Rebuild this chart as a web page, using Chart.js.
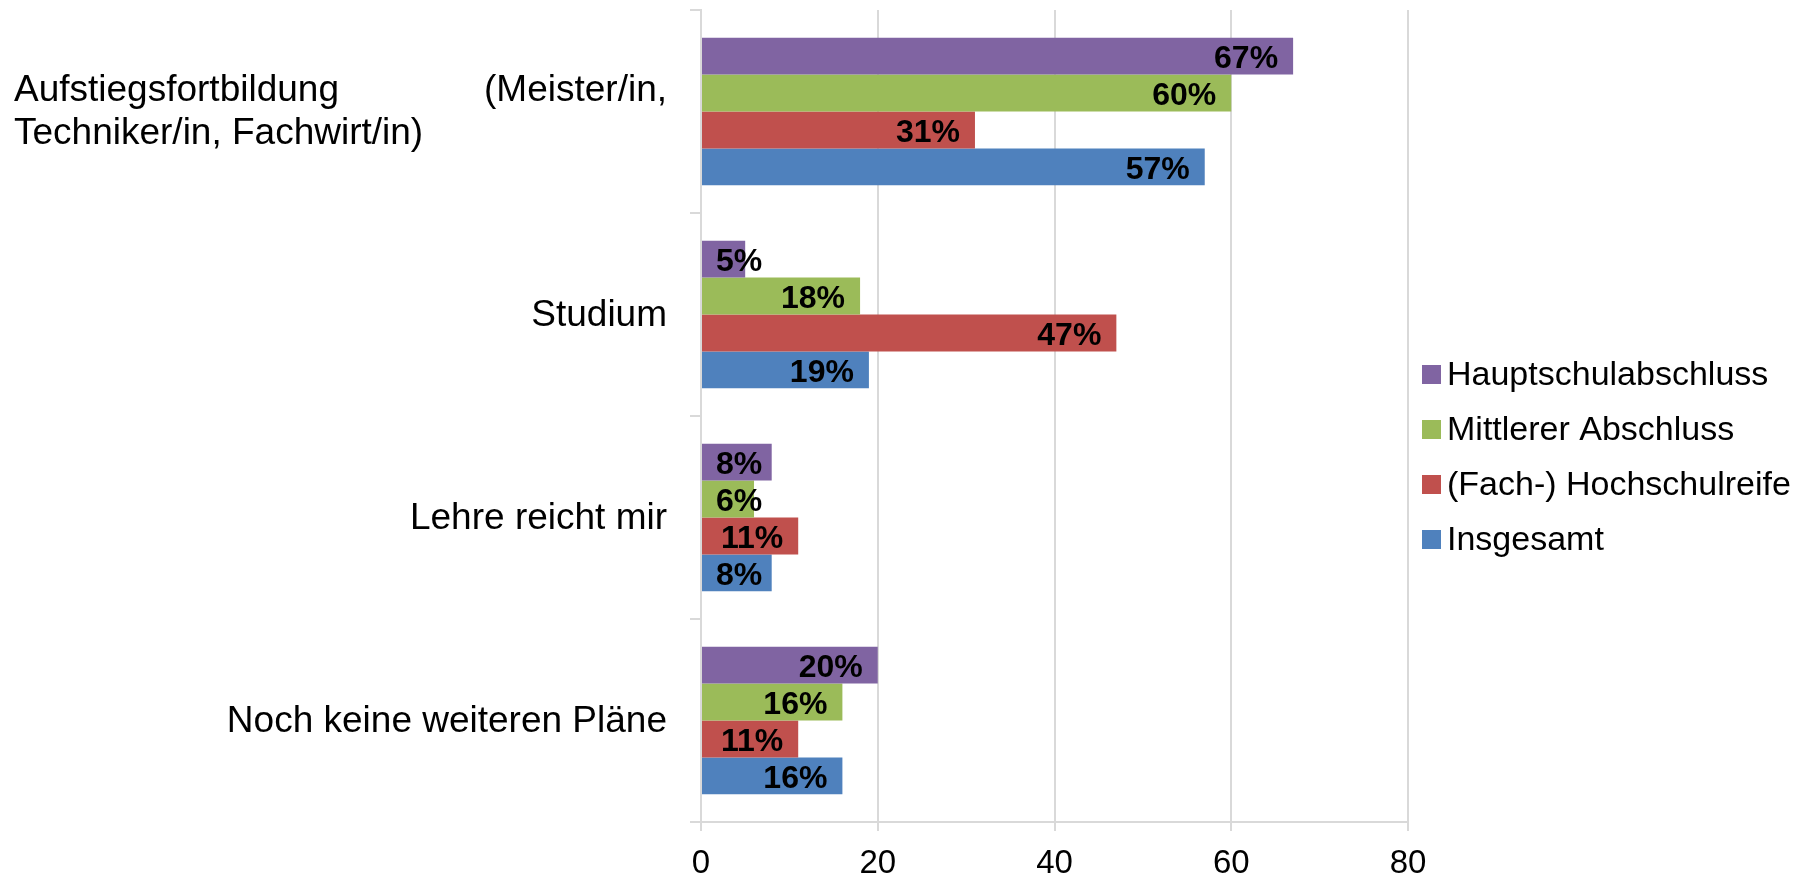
<!DOCTYPE html>
<html lang="de">
<head>
<meta charset="utf-8">
<title>Pläne nach der Ausbildung</title>
<script src="https://cdn.jsdelivr.net/npm/chart.js@4.4.1/dist/chart.umd.min.js"></script>
<style>
  html, body { margin: 0; padding: 0; background: #fff; }
  #wrap { position: relative; width: 1812px; height: 875px; }
</style>
</head>
<body>
<div id="wrap"><canvas id="chart"></canvas></div>
<script>
const categories = [
  'Aufstiegsfortbildung (Meister/in, Techniker/in, Fachwirt/in)',
  'Studium',
  'Lehre reicht mir',
  'Noch keine weiteren Pläne'
];
const seriesNames = ['Hauptschulabschluss', 'Mittlerer Abschluss', '(Fach-) Hochschulreife', 'Insgesamt'];
const hauptschulabschluss = [67, 5, 8, 20];
const mittlererAbschluss = [60, 18, 6, 16];
const hochschulreife = [31, 47, 11, 11];
const insgesamt = [57, 19, 8, 16];
const xTicks = [0, 20, 40, 60, 80];

const colors = ['#8064A2', '#9BBB59', '#C0504D', '#4F81BD'];
const FONT = '"Liberation Sans", Arial, Helvetica, sans-serif';
const GRID = '#d9d9d9';

// split a label into lines no wider than maxWidth
function wrapWords(ctx, text, maxWidth) {
  const lines = [];
  let line = [];
  text.split(' ').forEach(word => {
    const test = line.concat(word).join(' ');
    if (line.length && ctx.measureText(test).width > maxWidth) {
      lines.push(line);
      line = [word];
    } else {
      line.push(word);
    }
  });
  lines.push(line);
  return lines;
}

// category names left of the axis; wrapped lines are justified like in the office chart
const categoryLabels = {
  id: 'categoryLabels',
  afterDraw(chart) {
    const { ctx } = chart;
    const yScale = chart.scales.y;
    const right = yScale.right - 34;
    const maxWidth = 653;
    const lineHeight = 43;
    ctx.save();
    ctx.font = `37px ${FONT}`;
    ctx.fillStyle = '#000';
    ctx.textBaseline = 'middle';
    categories.forEach((label, i) => {
      const cy = yScale.getPixelForTick(i) + 1;
      const lines = wrapWords(ctx, label, maxWidth);
      const top = cy - (lines.length - 1) * lineHeight / 2;
      lines.forEach((words, j) => {
        const y = top + j * lineHeight;
        if (lines.length === 1) {
          ctx.textAlign = 'right';
          ctx.fillText(words.join(' '), right, y);
        } else if (j < lines.length - 1 && words.length > 1) {
          const used = words.reduce((s, w) => s + ctx.measureText(w).width, 0);
          const gap = (maxWidth - used) / (words.length - 1);
          let x = right - maxWidth;
          ctx.textAlign = 'left';
          words.forEach(w => {
            ctx.fillText(w, x, y);
            x += ctx.measureText(w).width + gap;
          });
        } else {
          ctx.textAlign = 'left';
          ctx.fillText(words.join(' '), right - maxWidth, y);
        }
      });
    });
    ctx.restore();
  }
};

// percentage labels at the inner end of each bar
const barValueLabels = {
  id: 'barValueLabels',
  afterDatasetsDraw(chart) {
    const { ctx } = chart;
    ctx.save();
    ctx.font = `bold 32px ${FONT}`;
    ctx.fillStyle = '#000';
    ctx.textBaseline = 'middle';
    ctx.textAlign = 'left';
    chart.data.datasets.forEach((ds, di) => {
      chart.getDatasetMeta(di).data.forEach((bar, i) => {
        const text = ds.data[i] + '%';
        const w = ctx.measureText(text).width;
        const x = Math.max(bar.x - 15 - w, bar.base + 14);
        ctx.fillText(text, x, bar.y + 3);
      });
    });
    ctx.restore();
  }
};

// legend block to the right of the plot
const sideLegend = {
  id: 'sideLegend',
  afterDraw(chart) {
    const { ctx, chartArea } = chart;
    const rowHeight = 55;
    const box = 19;
    const left = chartArea.right + 14;
    const top = 457 - rowHeight * (chart.data.datasets.length - 1) / 2;
    ctx.save();
    ctx.font = `34px ${FONT}`;
    ctx.textBaseline = 'middle';
    ctx.textAlign = 'left';
    chart.data.datasets.forEach((ds, i) => {
      const y = top + i * rowHeight;
      ctx.fillStyle = ds.backgroundColor;
      ctx.fillRect(left, y - box / 2, box, box);
      ctx.fillStyle = '#000';
      ctx.fillText(ds.label, left + box + 6, y + 1);
    });
    ctx.restore();
  }
};

const seriesValues = [hauptschulabschluss, mittlererAbschluss, hochschulreife, insgesamt];

new Chart(document.getElementById('chart'), {
  type: 'bar',
  data: {
    labels: categories,
    datasets: seriesNames.map((name, i) => ({
      label: name,
      data: seriesValues[i],
      backgroundColor: colors[i],
      borderWidth: 0,
      categoryPercentage: 0.727,
      barPercentage: 1
    }))
  },
  options: {
    indexAxis: 'y',
    responsive: true,
    maintainAspectRatio: false,
    animation: false,
    layout: { padding: { top: 10, right: 404, left: 0, bottom: 0 } },
    plugins: {
      legend: { display: false },
      tooltip: { enabled: false }
    },
    scales: {
      x: {
        min: 0,
        max: 80,
        afterBuildTicks: (scale) => { scale.ticks = xTicks.map(v => ({ value: v })); },
        afterFit: (scale) => { scale.height = 53; },
        ticks: { color: '#000', padding: 13, font: { family: FONT, size: 33 } },
        grid: { color: GRID, lineWidth: 2, tickLength: 9 },
        border: { color: GRID, width: 2 }
      },
      y: {
        afterFit: (scale) => { scale.width = 701; },
        ticks: { display: false },
        grid: { drawOnChartArea: false, offset: true, color: GRID, lineWidth: 2, tickLength: 11 },
        border: { color: GRID, width: 2 }
      }
    }
  },
  plugins: [categoryLabels, barValueLabels, sideLegend]
});
</script>
</body>
</html>
